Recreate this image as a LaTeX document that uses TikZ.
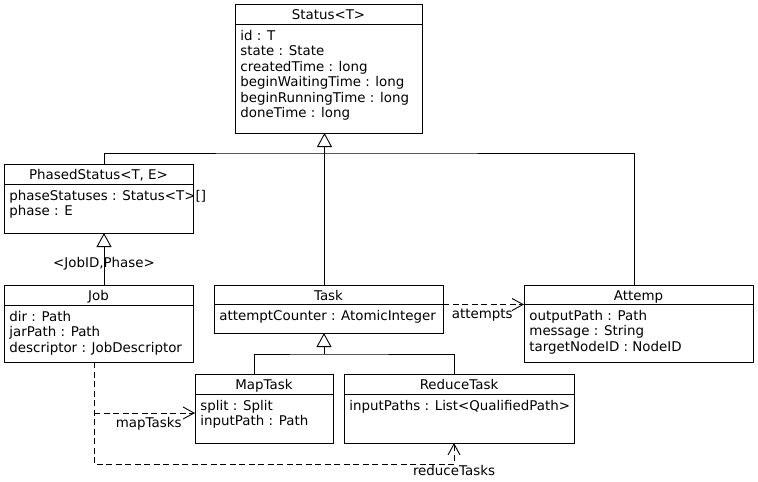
\documentclass[tikz,border=0pt]{standalone}
\usepackage{fontspec}
\setmainfont{DejaVu Sans}
\usetikzlibrary{arrows.meta,calc}

\tikzset{
  classbox/.style={draw, anchor=north west, inner sep=0pt, outer sep=0pt},
  classname/.style={anchor=base, inner sep=0pt, font=\fontsize{13.4}{15.5}\selectfont},
  classattr/.style={anchor=north west, inner sep=0pt, align=left, font=\fontsize{13.4}{15.5}\selectfont},
  rolename/.style={inner sep=0pt, font=\fontsize{13.4}{15.5}\selectfont},
  inherit/.style={-{Triangle[open,length=14pt,width=15pt]}},
  assoc/.style={dash pattern=on 6pt off 3.5pt, -{Straight Barb[length=11pt,width=12pt]}},
}

\begin{document}
\begin{tikzpicture}[x=1pt,y=-1pt,line width=0.9pt]
	\useasboundingbox (0,0) rectangle (758,482);

	% Status<T>
	\node[classbox, minimum width=187pt, minimum height=129pt] (status) at (235,4) {};
	\node[classname] (status-name) at ($(status.north)+(0,15)$) {Status<T>};
	\draw ($(status.north west)+(0,20)$) -- ($(status.north east)+(0,20)$);
	\node[classattr] (status-attr) at ($(status.north west)+(5,25)$) {\strut id : T\\state : State\\createdTime : long\\beginWaitingTime : long\\beginRunningTime : long\\doneTime : long};

	% PhasedStatus<T, E>
	\node[classbox, minimum width=189pt, minimum height=69pt] (phased) at (4,164) {};
	\node[classname] (phased-name) at ($(phased.north)+(0,15)$) {PhasedStatus<T, E>};
	\draw ($(phased.north west)+(0,20)$) -- ($(phased.north east)+(0,20)$);
	\node[classattr] (phased-attr) at ($(phased.north west)+(5,25)$) {\strut phaseStatuses : Status<T>[]\\phase : E};

	% Job
	\node[classbox, minimum width=189pt, minimum height=77pt] (job) at (4,285) {};
	\node[classname] (job-name) at ($(job.north)+(0,15)$) {Job};
	\draw ($(job.north west)+(0,20)$) -- ($(job.north east)+(0,20)$);
	\node[classattr] (job-attr) at ($(job.north west)+(5,25)$) {\strut dir : Path\\jarPath : Path\\descriptor : JobDescriptor};

	% Task
	\node[classbox, minimum width=229pt, minimum height=48pt] (task) at (214,285) {};
	\node[classname] (task-name) at ($(task.north)+(0,15)$) {Task};
	\draw ($(task.north west)+(0,19.5)$) -- ($(task.north east)+(0,19.5)$);
	\node[classattr] (task-attr) at ($(task.north west)+(5,24)$) {\strut attemptCounter : AtomicInteger};

	% Attemp
	\node[classbox, minimum width=229pt, minimum height=77pt] (attemp) at (524,285) {};
	\node[classname] (attemp-name) at ($(attemp.north)+(0,15)$) {Attemp};
	\draw ($(attemp.north west)+(0,19.5)$) -- ($(attemp.north east)+(0,19.5)$);
	\node[classattr] (attemp-attr) at ($(attemp.north west)+(5,24)$) {\strut outputPath : Path\\message : String\\targetNodeID : NodeID};

	% MapTask
	\node[classbox, minimum width=138pt, minimum height=69pt] (maptask) at (195,374) {};
	\node[classname] (maptask-name) at ($(maptask.north)+(0,15)$) {MapTask};
	\draw ($(maptask.north west)+(0,20)$) -- ($(maptask.north east)+(0,20)$);
	\node[classattr] (maptask-attr) at ($(maptask.north west)+(5,25)$) {\strut split : Split\\inputPath : Path};

	% ReduceTask
	\node[classbox, minimum width=230pt, minimum height=69pt] (reducetask) at (344,374) {};
	\node[classname] (reducetask-name) at ($(reducetask.north)+(0,15)$) {ReduceTask};
	\draw ($(reducetask.north west)+(0,20)$) -- ($(reducetask.north east)+(0,20)$);
	\node[classattr] (reducetask-attr) at ($(reducetask.north west)+(5,25)$) {\strut inputPaths : List<QualifiedPath>};

	% generalisations
	\coordinate (statusfork) at ($(status.south)+(-4,20)$);
	\coordinate (phasedup) at ($(phased.north)+(5.5,0)$);
	\coordinate (attempup) at ($(attemp.north)+(-4.5,0)$);
	\draw[inherit] (task.north -| statusfork) -- (status.south -| statusfork);
	\draw (phasedup) |- (statusfork) -| (attempup);
	\draw[inherit] (job.north -| phasedup) -- (phased.south -| phasedup);
	\node[rolename, anchor=base] (jobphase) at ($(job.north -| phasedup)+(0,-18)$) {<JobID,Phase>};

	\coordinate (taskfork) at ($(task.south)+(-4.5,21)$);
	\coordinate (mapup) at ($(maptask.north)+(-10,0)$);
	\coordinate (reduceup) at ($(reducetask.north)+(-5,0)$);
	\draw[inherit] (taskfork) -- (task.south -| taskfork);
	\draw (mapup) |- (taskfork) -| (reduceup);

	% associations
	\draw[assoc] ($(task.north east)+(0,19.5)$) -- ($(attemp.north west)+(0,19.5)$);
	\node[rolename, anchor=base east] (attempts) at ($(attemp.north west)+(-11,33)$) {attempts};

	\coordinate (jobdown) at ($(job.south)+(-4.5,0)$);
	\coordinate (jobturn) at ($(jobdown)+(0,102)$);
	\coordinate (mapin) at ($(maptask.west)+(0,4.5)$);
	\coordinate (reducedown) at ($(reducetask.south)+(-5,0)$);
	\draw[assoc] (jobdown) -- (jobturn) -| (reducedown);
	\draw[assoc] (jobdown |- mapin) -- (mapin);
	\node[rolename, anchor=base east] (maptasks) at ($(maptask.west)+(-13,18.5)$) {mapTasks};
	\node[rolename, anchor=base] (reducetasks) at ($(reducedown)+(0,32)$) {reduceTasks};
\end{tikzpicture}
\end{document}
